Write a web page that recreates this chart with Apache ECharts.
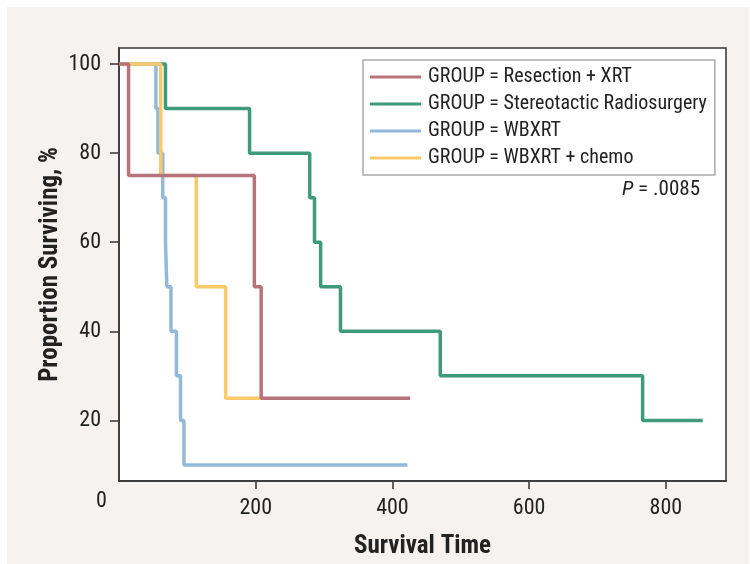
<!DOCTYPE html>
<html>
<head>
<meta charset="utf-8">
<script src="https://cdn.jsdelivr.net/npm/echarts@6/dist/echarts.min.js"></script>
<style>
  body { margin: 0; background: #fff; }
  #chart { width: 750px; height: 564px; }
</style>
</head>
<body>
<div id="chart"></div>
<script>
// Kaplan-Meier step points: time of each drop and survival after it
const resectionTime = [0, 14, 198, 208, 426];
const resectionSurv = [100, 75, 50, 25, 25];
const srsTime = [0, 68, 191, 279, 286, 295, 324, 470, 766, 854];
const srsSurv = [100, 90, 80, 70, 60, 50, 40, 30, 20, 20];
const wbxrtTime = [0, 54, 57, 64, 68, 70, 76, 84, 90, 95, 422];
const wbxrtSurv = [100, 90, 80, 70, 60, 50, 40, 30, 20, 10, 10];
const chemoTime = [0, 61, 113, 156, 208];
const chemoSurv = [100, 75, 50, 25, 25];

const groupNames = [
  "GROUP = Resection + XRT",
  "GROUP = Stereotactic Radiosurgery",
  "GROUP = WBXRT",
  "GROUP = WBXRT + chemo"
];
const xTicks = [200, 400, 600, 800];
const yTicks = [20, 40, 60, 80, 100];

const font = "'Roboto Condensed', 'Liberation Sans', Arial, sans-serif";

function zip(t, s) {
  return t.map(function (v, i) { return [v, s[i]]; });
}

const colors = ["#b7737b", "#3f9a7b", "#93b9da", "#f8ca6a"];
const seriesData = [
  zip(resectionTime, resectionSurv),
  zip(srsTime, srsSurv),
  zip(wbxrtTime, wbxrtSurv),
  zip(chemoTime, chemoSurv)
];
// red drawn on top, then yellow, blue, green
const zOrder = [5, 2, 3, 4];

const chart = echarts.init(document.getElementById("chart"));
chart.setOption({
  animation: false,
  backgroundColor: "#fff",
  graphic: [
    {
      type: "rect",
      z: -10,
      shape: { x: 7, y: 7, width: 742, height: 557 },
      style: { fill: "#f5f2ef" }
    },
    {
      type: "text",
      left: 96, top: 490,
      style: { text: "0", font: "22px " + font, fill: "#222" }
    },
    {
      type: "text",
      right: 50, top: 179,
      style: {
        rich: {
          p: { fontStyle: "italic", fontSize: 21, fontFamily: font, fill: "#222" },
          n: { fontSize: 21, fontFamily: font, fill: "#222" }
        },
        text: "{p|P}{n| = .0085}"
      }
    }
  ],
  grid: {
    left: 119, right: 24, top: 48, bottom: 81,
    show: true,
    backgroundColor: "#fff",
    borderColor: "#333",
    borderWidth: 1.5
  },
  legend: {
    orient: "vertical",
    left: 363, top: 60,
    data: groupNames,
    icon: "rect",
    borderColor: "#aaa",
    borderWidth: 1.5,
    backgroundColor: "#fff",
    padding: [6, 8, 6, 7],
    itemWidth: 51,
    itemHeight: 3,
    itemGap: 5,
    textStyle: { fontFamily: font, fontSize: 20, color: "#222", lineHeight: 22, padding: [0, 0, 0, 2] }
  },
  xAxis: {
    type: "value",
    min: 0, max: 888,
    name: "Survival Time",
    nameLocation: "middle",
    nameGap: 53,
    nameTextStyle: { fontFamily: font, fontSize: 25, fontWeight: "bold", color: "#222" },
    splitLine: { show: false },
    axisLine: { lineStyle: { color: "#333", width: 1.5 } },
    axisTick: { length: 8, lineStyle: { color: "#333", width: 1.5 }, customValues: xTicks },
    axisLabel: { fontFamily: font, fontSize: 22, color: "#222", margin: 16, customValues: xTicks }
  },
  yAxis: {
    type: "value",
    min: 6.4, max: 103.6,
    name: "Proportion Surviving, %",
    nameLocation: "middle",
    nameGap: 56,
    nameMoveOverlap: false,
    nameTextStyle: { fontFamily: font, fontSize: 25, fontWeight: "bold", color: "#222" },
    splitLine: { show: false },
    axisLine: { lineStyle: { color: "#333", width: 1.5 } },
    axisTick: { length: 9, lineStyle: { color: "#333", width: 1.5 }, customValues: yTicks },
    axisLabel: { fontFamily: font, fontSize: 22, color: "#222", margin: 18, customValues: yTicks }
  },
  series: groupNames.map(function (name, i) {
    return {
      name: name,
      type: "line",
      step: "end",
      symbol: "none",
      z: zOrder[i],
      color: colors[i],
      lineStyle: { color: colors[i], width: 3.5 },
      data: seriesData[i]
    };
  })
});
</script>
</body>
</html>
